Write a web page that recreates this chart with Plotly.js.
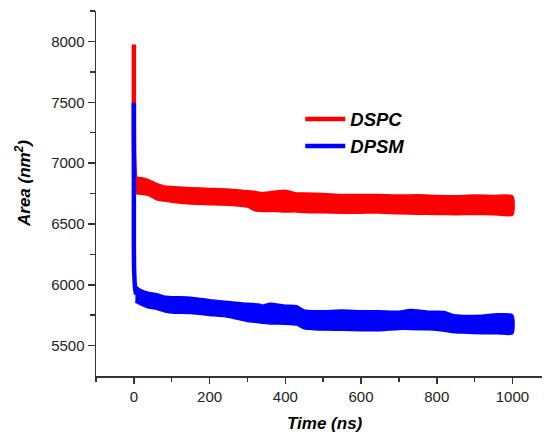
<!DOCTYPE html>
<html>
<head>
<meta charset="utf-8">
<script src="https://cdn.plot.ly/plotly-3.0.1.min.js"></script>
<style>html,body{margin:0;padding:0;background:#fff;}#chart{width:546px;height:435px;}</style>
</head>
<body>
<div id="chart"></div>
<script>
// ---- Data ----
const seriesNames = ["DSPC", "DPSM"];

// Initial relaxation spike (ns, nm^2)
const dspcSpikeTime = [0, 0, 1, 3, 6];
const dspcSpikeArea = [7975, 7300, 7050, 6900, 6830];
const dpsmSpikeTime = [0, 0, 1, 3, 6];
const dpsmSpikeArea = [7495, 6300, 6100, 5980, 5920];

// Fluctuation band (upper / lower envelope) after the spike
const dspcTime  = [4, 20, 40, 60, 80, 100, 150, 200, 250, 300, 320, 340, 375, 400, 425, 450, 500, 550, 600, 650, 700, 750, 800, 850, 900, 950, 1000];
const dspcUpper = [6880, 6878, 6860, 6830, 6810, 6805, 6795, 6790, 6785, 6770, 6765, 6755, 6768, 6775, 6755, 6752, 6748, 6740, 6740, 6740, 6735, 6738, 6732, 6730, 6735, 6732, 6728];
const dspcLower = [6750, 6745, 6735, 6700, 6690, 6680, 6665, 6660, 6655, 6640, 6610, 6605, 6605, 6600, 6602, 6595, 6593, 6590, 6590, 6592, 6585, 6582, 6580, 6578, 6580, 6578, 6575];

const dpsmTime  = [4, 20, 40, 60, 80, 100, 150, 200, 250, 300, 330, 340, 360, 400, 430, 450, 470, 500, 550, 600, 650, 700, 730, 780, 820, 840, 870, 920, 960, 1000];
const dpsmUpper = [5990, 5955, 5935, 5925, 5905, 5900, 5895, 5875, 5860, 5845, 5840, 5830, 5845, 5830, 5825, 5790, 5785, 5785, 5790, 5785, 5785, 5780, 5795, 5780, 5778, 5755, 5745, 5748, 5760, 5750];
const dpsmLower = [5860, 5835, 5810, 5800, 5780, 5770, 5765, 5750, 5735, 5700, 5690, 5685, 5680, 5678, 5670, 5640, 5635, 5630, 5628, 5625, 5625, 5635, 5635, 5632, 5620, 5610, 5605, 5600, 5600, 5598];

const xTickVals = [0, 200, 400, 600, 800, 1000];
const yTickVals = [5500, 6000, 6500, 7000, 7500, 8000];

// ---- Build traces ----
function band(t, up, lo, color) {
  return {
    x: t.concat(t.slice().reverse()),
    y: up.concat(lo.slice().reverse()),
    fill: 'toself', fillcolor: color, mode: 'lines',
    line: {color: color, width: 2, shape: 'spline', smoothing: 0.6},
    hoverinfo: 'skip', showlegend: false
  };
}
function spike(t, a, color, name) {
  return {
    x: t, y: a, mode: 'lines', name: name,
    line: {color: color, width: 4.5, shape: 'spline'},
    showlegend: true
  };
}
const red = '#ff0000', blue = '#0000ff';
const traces = [
  band(dspcTime, dspcUpper, dspcLower, red),
  spike(dspcSpikeTime, dspcSpikeArea, red, seriesNames[0]),
  band(dpsmTime, dpsmUpper, dpsmLower, blue),
  spike(dpsmSpikeTime, dpsmSpikeArea, blue, seriesNames[1])
];

const axisFont = {family: 'Liberation Sans, Arial, sans-serif', size: 15, color: '#222'};
const layout = {
  width: 546, height: 435,
  margin: {l: 96, r: 4, t: 11, b: 59, pad: 0},
  paper_bgcolor: '#fff', plot_bgcolor: '#fff',
  showlegend: true,
  legend: {
    x: 0.458, y: 0.666, xanchor: 'left', yanchor: 'middle',
    bgcolor: 'rgba(0,0,0,0)', borderwidth: 0, tracegroupgap: 0,
    itemwidth: 40,
    font: {family: 'Liberation Sans, Arial, sans-serif', size: 18.5, color: '#000', weight: 'bold', style: 'italic'}
  },
  xaxis: {
    range: [-100, 1078], showgrid: false, zeroline: false,
    showline: true, linecolor: '#333', linewidth: 1.5, mirror: false,
    ticks: 'outside', ticklen: 6, tickwidth: 1.5, tickcolor: '#333',
    tickvals: xTickVals, ticktext: xTickVals.map(String),
    minor: {tickvals: [-100, 100, 300, 500, 700, 900], ticks: 'outside', ticklen: 4, tickwidth: 1.5, tickcolor: '#333'},
    tickfont: axisFont, fixedrange: true
  },
  yaxis: {
    range: [5250, 8250], showgrid: false, zeroline: false,
    showline: true, linecolor: '#333', linewidth: 1.5, mirror: false,
    ticks: 'outside', ticklen: 7, tickwidth: 1.5, tickcolor: '#333',
    tickvals: yTickVals, ticktext: yTickVals.map(String),
    minor: {tickvals: [5750, 6250, 6750, 7250, 7750, 8250], ticks: 'outside', ticklen: 5, tickwidth: 1.5, tickcolor: '#333'},
    tickfont: axisFont, fixedrange: true
  },
  annotations: [
    {text: '<b><i>Time (ns)</i></b>', xref: 'paper', yref: 'paper',
     x: (325 - 96) / 446, y: -(424 - 376) / 365, xanchor: 'center', yanchor: 'middle',
     showarrow: false, font: {family: 'Liberation Sans, Arial, sans-serif', size: 17, color: '#000'}},
    {text: '<b><i>Area (nm<sup>2</sup>)</i></b>', xref: 'paper', yref: 'paper', textangle: -90,
     x: -(96 - 23) / 446, y: (376 - 184) / 365, xanchor: 'center', yanchor: 'middle',
     showarrow: false, font: {family: 'Liberation Sans, Arial, sans-serif', size: 17, color: '#000'}}
  ]
};

Plotly.newPlot('chart', traces, layout, {displayModeBar: false, staticPlot: true});
</script>
</body>
</html>
